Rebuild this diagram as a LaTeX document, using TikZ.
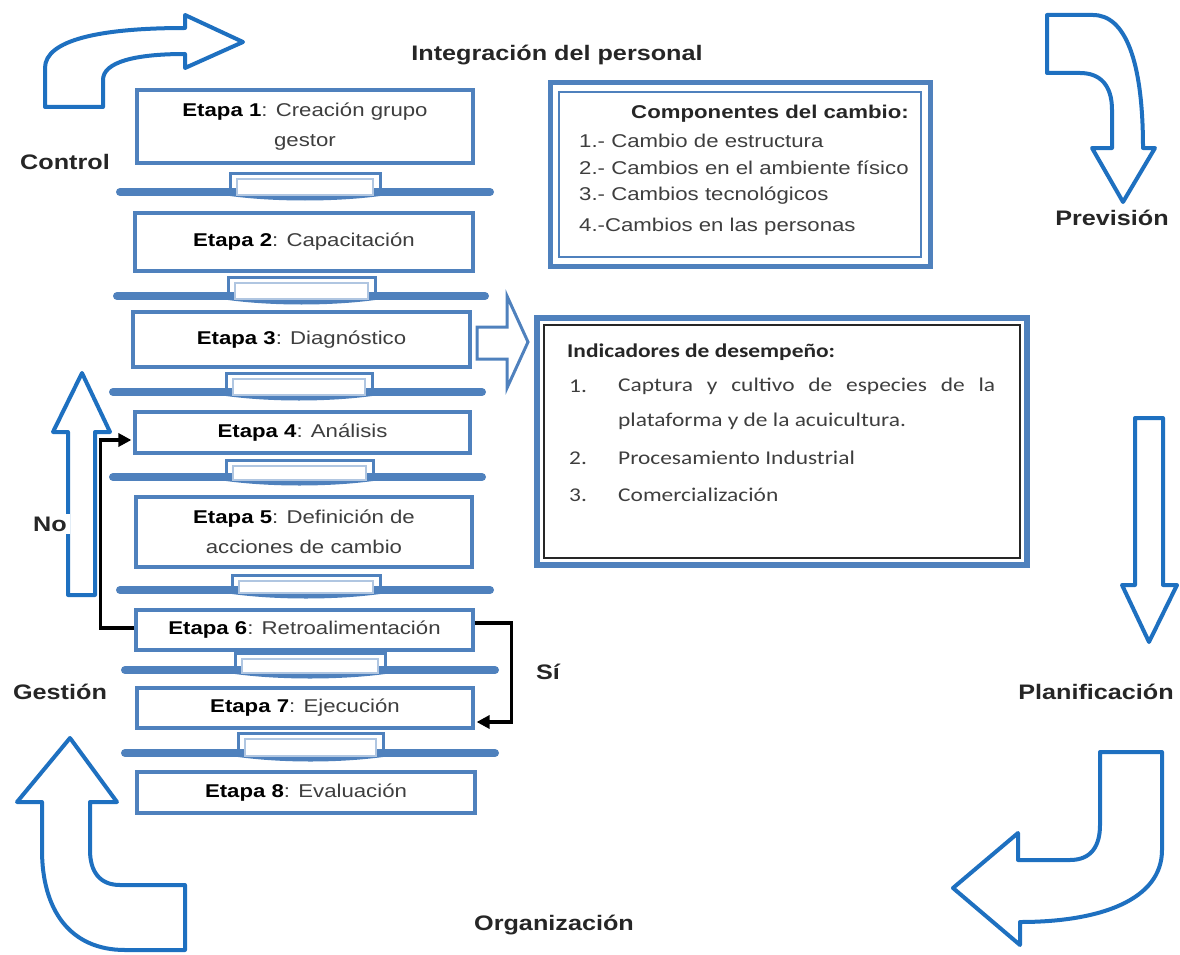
\documentclass[tikz,border=0pt]{standalone}
\usepackage{fontspec}
\setmainfont{Liberation Sans}[FakeStretch=1.2]
\newfontfamily\calfont{Carlito}[FakeStretch=1.2]
\usetikzlibrary{arrows.meta}
\definecolor{boxblue}{RGB}{79,129,189}
\definecolor{arrblue}{RGB}{30,112,192}
\definecolor{txtgray}{RGB}{62,62,62}
\newcommand{\et}[1]{{\color{black}\bfseries Etapa #1}:}
\begin{document}
\begin{tikzpicture}[x=1pt,y=-1pt,
  stage/.style={draw=boxblue, line width=3.2pt, fill=white, align=center, inner sep=0pt,
    font=\fontsize{18.5}{30}\selectfont, text=txtgray},
  bigarrow/.style={draw=arrblue, line width=4pt, line join=round, fill=white},
  lbl/.style={font=\bfseries\fontsize{21}{25}\selectfont, text=black!85, inner sep=1pt},
  comp/.style={anchor=west, font=\fontsize{18.5}{22}\selectfont, text=txtgray, inner sep=0pt},
  ind/.style={anchor=west, font=\calfont\fontsize{19.5}{23}\selectfont, text=txtgray, inner sep=0pt},
  fb/.style={line width=3.5pt, -{Triangle[length=13pt,width=13pt]}, shorten >=2pt}
]
\useasboundingbox (0,0) rectangle (1180,955);

% ---- connectors (trays) between stages
\foreach \tl/\tr/\tt/\by/\bl/\br in {230/380/173/192/120/490, 228/375/277/296/117/485,
  226/372/373/392/113/482, 226/373/460/477/113/482, 232/380/575/590/120/490,
  235/385/653/670/125/495, 238/383/733/753/125/495}{
  \draw[boxblue, line width=8pt, line cap=round] (\bl,\by) -- (\br,\by);
  \fill[boxblue] (\tr,\by) -- (\tr,{\by+4}) .. controls ({\tr-45},{\by+10}) and ({\tl+45},{\by+10}) .. (\tl,{\by+4}) -- (\tl,\by) -- cycle;
  \draw[boxblue, line width=3pt] (\tl,\by) -- (\tl,\tt) -- (\tr,\tt) -- (\tr,\by);
  \draw[boxblue!45, line width=1.5pt, fill=white] ({\tl+7},{\tt+6}) rectangle ({\tr-7},{\by+3});
}

% ---- stages
\node[stage, minimum width=336pt, minimum height=73pt] (e1) at (305,126.5) {\et{1} Creación grupo\\gestor};
\node[stage, minimum width=338pt, minimum height=58pt] (e2) at (304,242) {\et{2} Capacitación};
\node[stage, minimum width=337pt, minimum height=55pt] (e3) at (301.5,339.5) {\et{3} Diagnóstico};
\node[stage, minimum width=335pt, minimum height=41pt] (e4) at (302.5,432.5) {\et{4} Análisis};
\node[stage, minimum width=336pt, minimum height=70pt] (e5) at (304,532) {\et{5} Definición de\\acciones de cambio};
\node[stage, minimum width=337pt, minimum height=40pt] (e6) at (304.5,630) {\et{6} Retroalimentación};
\node[stage, minimum width=336pt, minimum height=40pt] (e7) at (305,708) {\et{7} Ejecución};
\node[stage, minimum width=338pt, minimum height=41pt] (e8) at (306,792.5) {\et{8} Evaluación};

% ---- big cycle arrows
\draw[bigarrow] (45,107) -- (45,68) .. controls (45,40) and (100,28) .. (185,28) -- (185,15) -- (243,42) -- (185,68) -- (185,54) .. controls (135,54) and (103,62) .. (103,80) -- (103,107) -- cycle;
\draw[bigarrow] (1047,15) -- (1093,15) .. controls (1125,15) and (1143,60) .. (1143,148) -- (1155,148) -- (1123,202) -- (1092,148) -- (1112,148) -- (1112,110) .. controls (1112,85) and (1100,73) .. (1080,73) -- (1047,73) -- cycle;
\draw[bigarrow] (1135,418) -- (1163,418) -- (1163,585) -- (1177,585) -- (1149,642) -- (1122,585) -- (1135,585) -- cycle;
\draw[bigarrow] (1100,752) -- (1162,752) -- (1162,850) .. controls (1162,900) and (1100,922) .. (1020,922) -- (1020,945) -- (953,888) -- (1018,833) -- (1018,860) -- (1070,860) .. controls (1092,860) and (1100,845) .. (1100,825) -- cycle;
\draw[bigarrow] (70,738) -- (117,802) -- (90,802) -- (90,850) .. controls (90,872) and (100,885) .. (120,885) -- (185,885) -- (185,950) -- (125,950) .. controls (70,950) and (42,910) .. (42,850) -- (42,802) -- (17,802) -- cycle;
\draw[bigarrow] (82,373) -- (110,432) -- (95,432) -- (95,595) -- (68,595) -- (68,432) -- (53,432) -- cycle;

% ---- Etapa 3 block arrow
\draw[boxblue, line width=3pt, fill=white, line join=miter] (477,327) -- (507,327) -- (507,296) -- (528,342) -- (507,388) -- (507,359) -- (477,359) -- cycle;

% ---- cycle labels
\node[lbl] (tinteg) at (557,55) {Integración del personal};
\node[lbl] (tcontrol) at (65,162) {Control};
\node[lbl] (tprev) at (1112,218) {Previsión};
\node[lbl] (tplan) at (1096,692) {Planificación};
\node[lbl] (torg) at (554,925) {Organización};
\node[lbl] (tgest) at (60,692) {Gestión};
\node[lbl, fill=white, inner sep=3pt] (tno) at (50,524) {No};
\node[lbl] (tsi) at (548,672) {Sí};

% ---- feedback connectors
\draw[fb] ([yshift=2pt]e6.west) -- ++(-34,0) |- ([yshift=-7.5pt]e4.west);
\draw[fb] ([yshift=7pt]e6.east) -- ++(37,0) |- ([yshift=-14pt]e7.east);

% ---- Componentes del cambio box
\node[draw=boxblue, line width=5pt, minimum width=380pt, minimum height=183pt, inner sep=0pt] (cbox) at (740,174.5) {};
\node[draw=boxblue, line width=1.5pt, minimum width=362pt, minimum height=165pt, inner sep=0pt] (cboxin) at (cbox.center) {};
\node[comp, anchor=center, font=\bfseries\fontsize{18.5}{22}\selectfont, text=black!85] (ctitle) at (770,114) {Componentes del cambio:};
\node[comp] (c1) at (579,141) {1.- Cambio de estructura};
\node[comp] (c2) at (579,168) {2.- Cambios en el ambiente físico};
\node[comp] (c3) at (579,196) {3.- Cambios tecnológicos};
\node[comp] (c4) at (579,227) {4.-Cambios en las personas};

% ---- Indicadores de desempeño box
\node[draw=boxblue, line width=6pt, minimum width=490pt, minimum height=247pt, inner sep=0pt] (ibox) at (782,441.5) {};
\node[draw=black!85, line width=1.5pt, minimum width=476pt, minimum height=233pt, inner sep=0pt] (iboxin) at (ibox.center) {};
\node[ind, font=\calfont\bfseries\fontsize{19.5}{23}\selectfont, text=black!85] (ititle) at (567,352) {Indicadores de desempeño:};
\node[ind] (n1) at (569,386) {1.};
\node[ind] (i1) at (618,386) {\makebox[377pt][s]{Captura y cultivo de especies de la}};
\node[ind] (i1b) at (618,421) {plataforma y de la acuicultura.};
\node[ind] (n2) at (569,458) {2.};
\node[ind] (i2) at (618,458) {Procesamiento Industrial};
\node[ind] (n3) at (569,495) {3.};
\node[ind] (i3) at (618,495) {Comercialización};
\end{tikzpicture}
\end{document}
